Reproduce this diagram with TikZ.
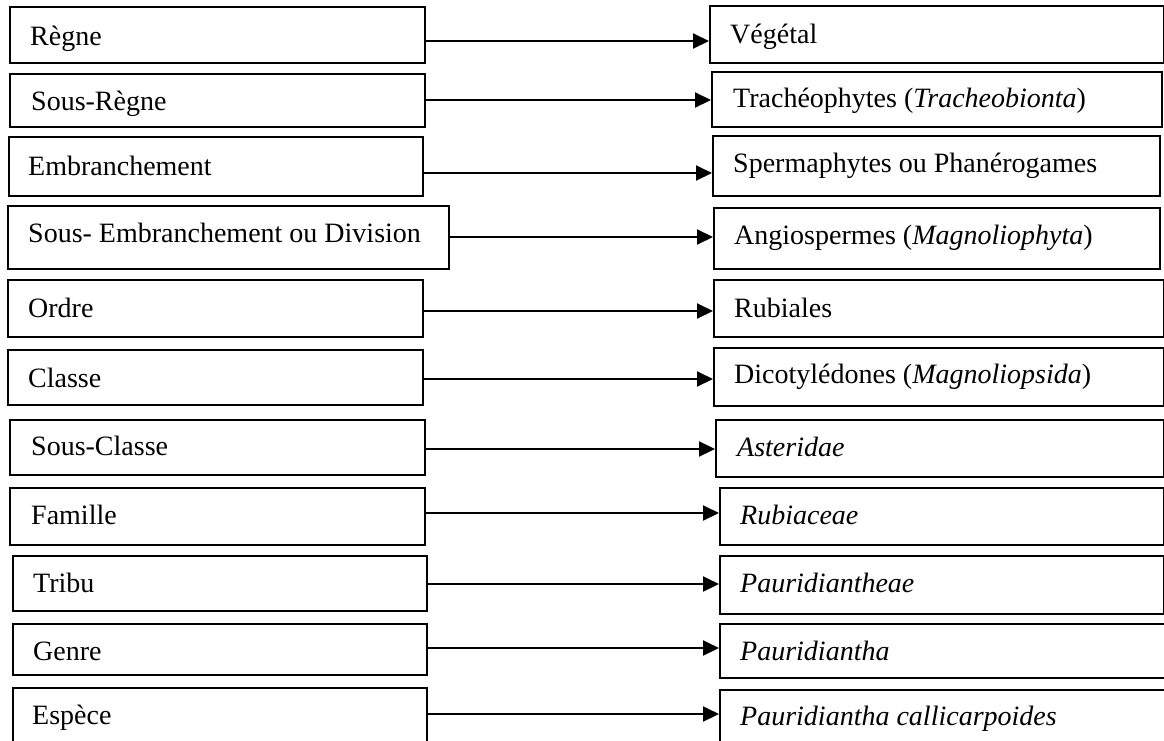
\documentclass[tikz,border=0pt]{standalone}
\usepackage{fontspec}
\setmainfont{Liberation Serif}
\usetikzlibrary{arrows.meta}
\begin{document}
\begin{tikzpicture}[x=1pt,y=-1pt,
  box/.style={draw=black,line width=2pt,rectangle,inner sep=0pt,anchor=north west},
  lbl/.style={anchor=base west,inner sep=0pt,font=\fontsize{28}{33}\selectfont},
  arr/.style={draw=black,line width=2pt,-{Triangle[length=16pt,width=15pt]}}]
\useasboundingbox (0,0) rectangle (1164,740);
\clip (0,0) rectangle (1164,740);
\fill[white] (0,0) rectangle (1164,740);
% left boxes
\node[box,minimum width=415pt,minimum height=56pt] (L1) at (9,6) {};
\node[box,minimum width=415pt,minimum height=53pt] (L2) at (9,73) {};
\node[box,minimum width=414pt,minimum height=59pt] (L3) at (8,136) {};
\node[box,minimum width=441pt,minimum height=63pt] (L4) at (7,205) {};
\node[box,minimum width=415pt,minimum height=57pt] (L5) at (7,279) {};
\node[box,minimum width=415pt,minimum height=55pt] (L6) at (7,349) {};
\node[box,minimum width=415pt,minimum height=55pt] (L7) at (9,419) {};
\node[box,minimum width=415pt,minimum height=57pt] (L8) at (9,487) {};
\node[box,minimum width=414pt,minimum height=55pt] (L9) at (12,555) {};
\node[box,minimum width=414pt,minimum height=51pt] (L10) at (12,623) {};
\node[box,minimum width=414pt,minimum height=80pt] (L11) at (12,687) {};
% right boxes
\node[box,minimum width=454pt,minimum height=57pt] (R1) at (709,5) {};
\node[box,minimum width=450pt,minimum height=55pt] (R2) at (711,71) {};
\node[box,minimum width=447pt,minimum height=60pt] (R3) at (712,135) {};
\node[box,minimum width=446pt,minimum height=61pt] (R4) at (713,207) {};
\node[box,minimum width=450pt,minimum height=57pt] (R5) at (713,279) {};
\node[box,minimum width=450pt,minimum height=58pt] (R6) at (713,347) {};
\node[box,minimum width=448pt,minimum height=57pt] (R7) at (715,419) {};
\node[box,minimum width=444pt,minimum height=57pt] (R8) at (719,487) {};
\node[box,minimum width=444pt,minimum height=58pt] (R9) at (719,555) {};
\node[box,minimum width=480pt,minimum height=54pt] (R10) at (719,623) {};
\node[box,minimum width=480pt,minimum height=80pt] (R11) at (719,689) {};
% left labels
\node[lbl] (tL1) at (30,45) {Règne};
\node[lbl] (tL2) at (31,110) {Sous-Règne};
\node[lbl] (tL3) at (28,175) {Embranchement};
\node[lbl] (tL4) at (28,242) {Sous- Embranchement ou Division};
\node[lbl] (tL5) at (28,317) {Ordre};
\node[lbl] (tL6) at (28,387) {Classe};
\node[lbl] (tL7) at (31,455) {Sous-Classe};
\node[lbl] (tL8) at (31,524) {Famille};
\node[lbl] (tL9) at (33,592) {Tribu};
\node[lbl] (tL10) at (33,660) {Genre};
\node[lbl] (tL11) at (32,724) {Espèce};
% right labels
\node[lbl] (tR1) at (730,43) {Végétal};
\node[lbl] (tR2) at (733,107) {Trachéophytes (\textit{Tracheobionta})};
\node[lbl] (tR3) at (733,172) {Spermaphytes ou Phanérogames};
\node[lbl] (tR4) at (734,244) {Angiospermes (\textit{Magnoliophyta})};
\node[lbl] (tR5) at (734,317) {Rubiales};
\node[lbl] (tR6) at (734,383) {Dicotylédones (\textit{Magnoliopsida})};
\node[lbl] (tR7) at (737,456) {\textit{Asteridae}};
\node[lbl] (tR8) at (740,524) {\textit{Rubiaceae}};
\node[lbl] (tR9) at (740,592) {\textit{Pauridiantheae}};
\node[lbl] (tR10) at (740,660) {\textit{Pauridiantha}};
\node[lbl] (tR11) at (740,725) {\textit{Pauridiantha callicarpoides}};
% arrow rows
\coordinate (a1) at (0,41);
\coordinate (a2) at (0,100);
\coordinate (a3) at (0,173);
\coordinate (a4) at (0,237);
\coordinate (a5) at (0,311);
\coordinate (a6) at (0,379);
\coordinate (a7) at (0,449);
\coordinate (a8) at (0,513);
\coordinate (a9) at (0,584);
\coordinate (a10) at (0,648);
\coordinate (a11) at (0,714);
\foreach \i in {1,...,11}{
  \draw[arr] (L\i.east |- a\i) -- (R\i.west |- a\i);
}
\end{tikzpicture}
\end{document}
